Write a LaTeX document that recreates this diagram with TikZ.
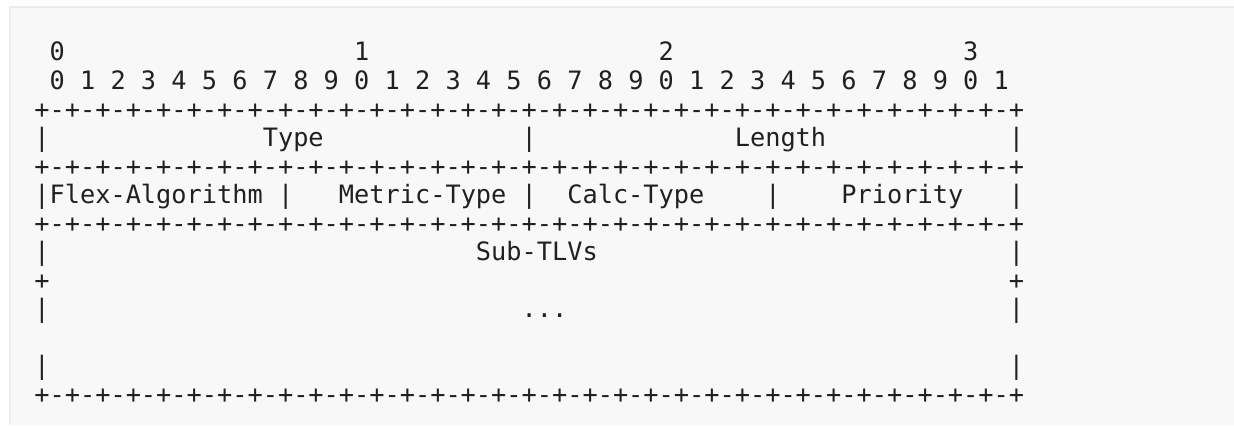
\documentclass[tikz,border=0pt]{standalone}
\usepackage{fontspec}
\setmonofont{DejaVu Sans Mono}
\usetikzlibrary{positioning}
\definecolor{panelbg}{HTML}{F8F8F8}
\definecolor{paneledge}{HTML}{ECECEC}
\definecolor{asciiink}{HTML}{202020}
\tikzset{
  txt/.style={anchor=base west, inner sep=0pt, outer sep=0pt, text=asciiink,
    font=\ttfamily\fontsize{18.97pt}{21pt}\selectfont},
}
\newcommand{\sepline}{+-+-+-+-+-+-+-+-+-+-+-+-+-+-+-+-+-+-+-+-+-+-+-+-+-+-+-+-+-+-+-+-+}

\begin{document}
\begin{tikzpicture}[x=0.75pt,y=0.75pt]
\useasboundingbox (0,0) rectangle (1234,425);

% panel
\fill[panelbg] (10,0) rectangle (1234,418);
\draw[paneledge,line width=1.5pt] (10,0) -- (10,418) -- (1234,418);

% character grid: one unit = one column / one line
\begin{scope}[shift={(34.4,364)},x=11.42pt,y=-21.4pt]

% bit ruler
\foreach \d [count=\i from 0] in {0,1,2,3}
  \node[txt] (tens-\i) at (1+20*\i,0) {\d};
\foreach \b in {0,...,31}{
  \pgfmathtruncatemacro\u{mod(\b,10)}
  \node[txt] (ones-\b) at (1+2*\b,1) {\u};
}

% separators
\foreach \r in {2,4,6,12}
  \node[txt] (sep-\r) at (0,\r) {\sepline};

% outer bars
\foreach \r in {3,5,7,9,11}{
  \node[txt] (barl-\r) at (0,\r) {|};
  \node[txt] (barr-\r) at (64,\r) {|};
}
\node[txt] (plusl) at (0,8) {+};
\node[txt] (plusr) at (64,8) {+};

% inner bars
\node[txt] (mid-3) at (32,3) {|};
\foreach \c in {16,32,48}
  \node[txt] (mid-5-\c) at (\c,5) {|};

% fields
\node[txt] (type) at (15,3) {Type};
\node[txt] (length) at (46,3) {Length};
\node[txt] (algo) at (1,5) {Flex-Algorithm};
\node[txt] (metric) at (20,5) {Metric-Type};
\node[txt] (calc) at (35,5) {Calc-Type};
\node[txt] (prio) at (53,5) {Priority};
\node[txt] (subtlv) at (29,7) {Sub-TLVs};
\node[txt] (dots) at (32,9) {...};
\end{scope}

\end{tikzpicture}
\end{document}
